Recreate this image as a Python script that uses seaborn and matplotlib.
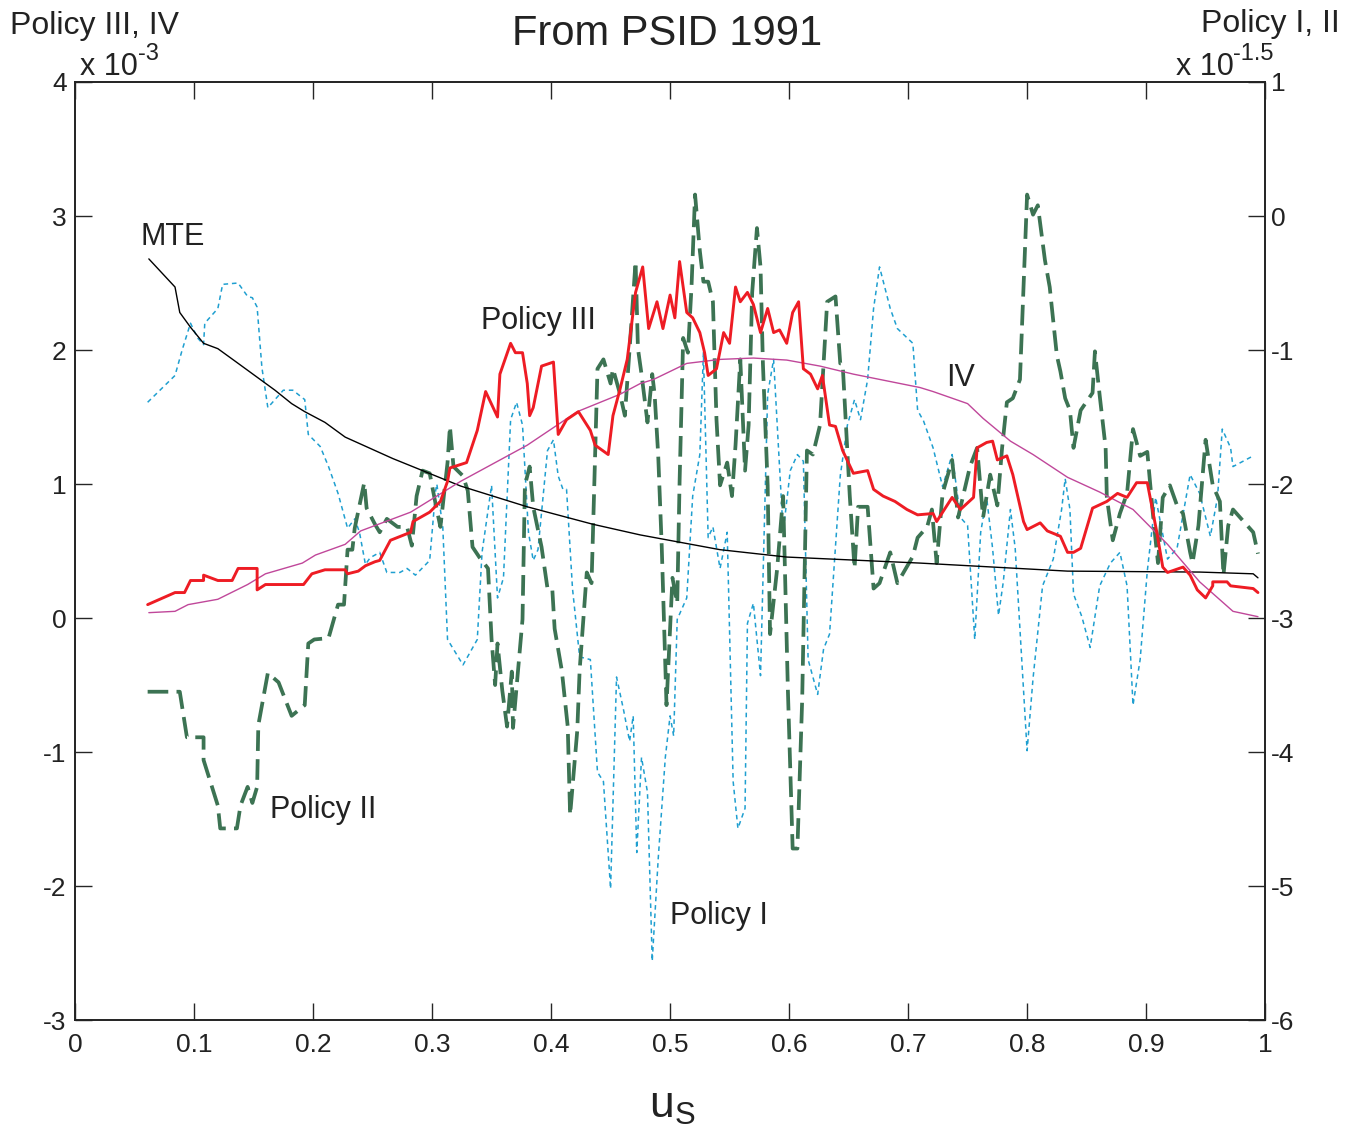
import matplotlib
matplotlib.use("Agg")
import matplotlib.pyplot as plt
import seaborn as sns

# x values (u_S) and curves
mte_x = [0.062, 0.084, 0.088, 0.097, 0.108, 0.120, 0.134, 0.151, 0.168, 0.182, 0.193, 0.210, 0.227,
         0.252, 0.267, 0.324, 0.380, 0.435, 0.475, 0.542, 0.598, 0.710, 0.834, 0.945, 0.990, 0.994]
mte_y = [2.68, 2.47, 2.28, 2.17, 2.05, 2.01, 1.92, 1.81, 1.70, 1.60, 1.54, 1.46, 1.35,
         1.25, 1.19, 0.985, 0.83, 0.70, 0.62, 0.51, 0.455, 0.41, 0.35, 0.343, 0.33, 0.30]

iv_x = [0.062, 0.084, 0.095, 0.120, 0.145, 0.160, 0.191, 0.202, 0.227, 0.240, 0.282, 0.324, 0.380,
        0.422, 0.458, 0.475, 0.486, 0.514, 0.542, 0.570, 0.598, 0.626, 0.654, 0.710, 0.721, 0.750,
        0.763, 0.786, 0.805, 0.834, 0.861, 0.889, 0.918, 0.945, 0.973, 0.994]
iv_y = [0.04, 0.05, 0.10, 0.14, 0.25, 0.33, 0.41, 0.47, 0.55, 0.65, 0.79, 1.02, 1.29,
        1.54, 1.67, 1.75, 1.78, 1.90, 1.93, 1.94, 1.925, 1.88, 1.82, 1.72, 1.69, 1.60,
        1.49, 1.32, 1.22, 1.05, 0.94, 0.81, 0.55, 0.27, 0.05, 0.01]

p3_x = [0.061, 0.084, 0.092, 0.097, 0.108, 0.108, 0.120, 0.132, 0.137, 0.153, 0.153, 0.160, 0.192,
        0.199, 0.210, 0.227, 0.229, 0.238, 0.244, 0.252, 0.256, 0.265, 0.282, 0.284, 0.298, 0.307,
        0.313, 0.315, 0.329, 0.338, 0.345, 0.355, 0.357, 0.366, 0.370, 0.376, 0.380, 0.382, 0.385,
        0.392, 0.402, 0.406, 0.413, 0.423, 0.433, 0.437, 0.448, 0.452, 0.458, 0.464, 0.471, 0.477,
        0.482, 0.489, 0.494, 0.500, 0.504, 0.508, 0.514, 0.519, 0.525, 0.529, 0.532, 0.539, 0.545,
        0.550, 0.555, 0.559, 0.565, 0.570, 0.576, 0.582, 0.587, 0.592, 0.598, 0.603, 0.608, 0.612,
        0.618, 0.624, 0.628, 0.634, 0.639, 0.645, 0.654, 0.666, 0.671, 0.679, 0.689, 0.699, 0.708,
        0.721, 0.724, 0.737, 0.744, 0.755, 0.758, 0.766, 0.771, 0.775, 0.783, 0.788, 0.797, 0.800,
        0.811, 0.817, 0.828, 0.834, 0.839, 0.845, 0.855, 0.867, 0.876, 0.884, 0.892, 0.901, 0.909,
        0.914, 0.918, 0.931, 0.937, 0.943, 0.950, 0.956, 0.956, 0.968, 0.971, 0.990, 0.994]
p3_y = [0.10, 0.19, 0.19, 0.28, 0.28, 0.32, 0.28, 0.28, 0.37, 0.37, 0.21, 0.25, 0.25,
        0.33, 0.36, 0.36, 0.33, 0.35, 0.39, 0.42, 0.43, 0.58, 0.64, 0.72, 0.79, 0.87,
        1.02, 1.12, 1.16, 1.40, 1.69, 1.50, 1.82, 2.05, 1.98, 1.98, 1.75, 1.51, 1.57,
        1.88, 1.91, 1.37, 1.48, 1.54, 1.40, 1.29, 1.22, 1.51, 1.71, 1.93, 2.43, 2.62,
        2.16, 2.36, 2.16, 2.41, 2.24, 2.66, 2.28, 2.24, 2.13, 1.98, 1.81, 1.86, 2.13,
        2.05, 2.47, 2.36, 2.43, 2.34, 2.13, 2.31, 2.13, 2.15, 2.05, 2.28, 2.36, 1.86,
        1.82, 1.71, 1.81, 1.44, 1.43, 1.25, 1.08, 1.10, 0.96, 0.91, 0.87, 0.81, 0.77,
        0.78, 0.72, 0.90, 0.81, 0.90, 1.27, 1.31, 1.32, 1.18, 1.21, 1.07, 0.72, 0.66,
        0.71, 0.65, 0.61, 0.49, 0.49, 0.52, 0.82, 0.87, 0.93, 0.90, 1.01, 1.01, 0.64,
        0.38, 0.34, 0.38, 0.32, 0.21, 0.15, 0.24, 0.27, 0.27, 0.24, 0.22, 0.19]

p2_x = [0.061, 0.088, 0.094, 0.108, 0.108, 0.120, 0.122, 0.136, 0.139, 0.145, 0.149, 0.153, 0.154,
        0.162, 0.171, 0.182, 0.193, 0.196, 0.201, 0.213, 0.221, 0.226, 0.229, 0.233, 0.235, 0.239,
        0.243, 0.245, 0.252, 0.256, 0.262, 0.271, 0.279, 0.283, 0.287, 0.292, 0.298, 0.303, 0.307,
        0.313, 0.315, 0.318, 0.326, 0.330, 0.334, 0.340, 0.347, 0.350, 0.353, 0.355, 0.359, 0.363,
        0.367, 0.368, 0.376, 0.378, 0.382, 0.385, 0.392, 0.397, 0.401, 0.403, 0.409, 0.414, 0.416,
        0.422, 0.424, 0.430, 0.434, 0.435, 0.439, 0.444, 0.450, 0.452, 0.458, 0.462, 0.466, 0.471,
        0.473, 0.476, 0.481, 0.485, 0.487, 0.490, 0.493, 0.497, 0.502, 0.506, 0.508, 0.511, 0.515,
        0.518, 0.521, 0.525, 0.528, 0.532, 0.536, 0.539, 0.542, 0.548, 0.552, 0.555, 0.559, 0.563,
        0.566, 0.569, 0.573, 0.576, 0.578, 0.582, 0.584, 0.590, 0.595, 0.599, 0.603, 0.607, 0.611,
        0.615, 0.620, 0.626, 0.632, 0.639, 0.643, 0.645, 0.651, 0.655, 0.658, 0.666, 0.671, 0.676,
        0.685, 0.691, 0.704, 0.708, 0.716, 0.720, 0.724, 0.729, 0.737, 0.742, 0.752, 0.758, 0.763,
        0.769, 0.775, 0.779, 0.783, 0.788, 0.794, 0.800, 0.805, 0.809, 0.815, 0.819, 0.825, 0.828,
        0.832, 0.836, 0.839, 0.845, 0.855, 0.857, 0.861, 0.866, 0.867, 0.872, 0.878, 0.884, 0.889,
        0.895, 0.901, 0.906, 0.910, 0.914, 0.920, 0.926, 0.931, 0.937, 0.939, 0.944, 0.950, 0.956,
        0.962, 0.965, 0.969, 0.973, 0.979, 0.990, 0.994]
p2_y = [-3.55, -3.55, -3.89, -3.89, -4.06, -4.40, -4.57, -4.57, -4.40, -4.26, -4.38, -4.26, -3.80,
        -3.41, -3.48, -3.73, -3.65, -3.19, -3.16, -3.15, -2.90, -2.90, -2.49, -2.49, -2.33, -2.16,
        -1.99, -2.18, -2.30, -2.36, -2.26, -2.32, -2.32, -2.46, -2.09, -1.90, -1.92, -2.15, -2.32,
        -1.84, -1.57, -1.87, -1.94, -2.05, -2.47, -2.55, -2.63, -3.16, -3.50, -3.19, -3.54, -3.81,
        -3.40, -3.82, -3.01, -2.01, -1.87, -2.17, -2.47, -2.78, -2.78, -3.08, -3.39, -3.81, -4.47,
        -3.84, -3.39, -2.66, -2.74, -2.43, -1.14, -1.07, -1.25, -1.14, -1.33, -1.49, -0.99, -0.34,
        -0.99, -1.18, -1.54, -1.18, -1.33, -1.78, -2.47, -3.65, -2.70, -2.89, -1.98, -0.91, -1.02,
        -0.53, 0.16, -0.26, -0.49, -0.49, -0.64, -1.52, -2.01, -1.84, -2.09, -1.71, -1.07, -1.90,
        -1.56, -0.57, -0.09, -0.38, -1.10, -2.01, -3.12, -2.63, -2.09, -3.54, -4.72, -4.72, -3.61,
        -1.75, -1.78, -1.56, -0.64, -0.60, -1.10, -1.10, -2.09, -2.63, -2.17, -2.17, -2.78, -2.74,
        -2.51, -2.74, -2.54, -2.40, -2.32, -2.19, -2.59, -2.07, -1.82, -2.25, -1.87, -1.73, -2.25,
        -1.93, -2.16, -1.73, -1.39, -1.36, -1.22, 0.16, 0.01, 0.08, -0.33, -0.53, -1.04, -1.16,
        -1.36, -1.45, -1.73, -1.45, -1.32, -1.01, -1.34, -1.73, -2.10, -2.42, -2.22, -2.07, -1.59,
        -1.79, -1.76, -2.25, -2.59, -2.10, -2.01, -2.16, -2.22, -2.51, -2.59, -2.31, -1.67, -2.01,
        -2.13, -2.68, -2.31, -2.19, -2.25, -2.36, -2.52]

p1_x = [0.061, 0.084, 0.090, 0.097, 0.103, 0.108, 0.109, 0.120, 0.124, 0.137, 0.145, 0.149, 0.153,
        0.157, 0.162, 0.175, 0.183, 0.193, 0.196, 0.206, 0.213, 0.221, 0.229, 0.235, 0.239, 0.244,
        0.248, 0.256, 0.262, 0.273, 0.279, 0.286, 0.298, 0.303, 0.304, 0.309, 0.313, 0.326, 0.338,
        0.342, 0.350, 0.355, 0.360, 0.366, 0.371, 0.376, 0.381, 0.385, 0.389, 0.397, 0.402, 0.406,
        0.410, 0.413, 0.418, 0.424, 0.433, 0.439, 0.444, 0.450, 0.455, 0.461, 0.466, 0.469, 0.472,
        0.476, 0.481, 0.485, 0.490, 0.496, 0.500, 0.503, 0.506, 0.514, 0.519, 0.525, 0.528, 0.532,
        0.536, 0.542, 0.548, 0.553, 0.557, 0.563, 0.565, 0.570, 0.576, 0.582, 0.587, 0.595, 0.601,
        0.607, 0.612, 0.616, 0.624, 0.629, 0.634, 0.643, 0.649, 0.655, 0.660, 0.666, 0.671, 0.676,
        0.685, 0.691, 0.704, 0.708, 0.713, 0.721, 0.729, 0.737, 0.744, 0.750, 0.756, 0.761, 0.766,
        0.771, 0.776, 0.780, 0.786, 0.790, 0.800, 0.805, 0.813, 0.822, 0.829, 0.832, 0.836, 0.839,
        0.846, 0.853, 0.861, 0.870, 0.878, 0.884, 0.889, 0.895, 0.901, 0.908, 0.918, 0.926, 0.937,
        0.945, 0.954, 0.960, 0.964, 0.971, 0.973, 0.990]
p1_y = [-1.39, -1.19, -1.00, -0.80, -0.91, -0.96, -0.80, -0.69, -0.51, -0.50, -0.60, -0.61, -0.68,
        -1.13, -1.43, -1.30, -1.30, -1.37, -1.63, -1.72, -1.87, -2.07, -2.33, -2.26, -2.36, -2.60,
        -2.55, -2.51, -2.66, -2.66, -2.63, -2.68, -2.57, -2.05, -2.00, -2.32, -3.16, -3.35, -3.16,
        -2.51, -2.01, -2.85, -2.70, -1.52, -1.39, -1.56, -2.36, -2.57, -2.49, -1.75, -1.67, -1.94,
        -2.04, -2.04, -2.78, -3.29, -3.31, -4.15, -4.22, -5.02, -3.44, -3.69, -3.92, -3.73, -4.75,
        -4.04, -4.30, -5.56, -4.80, -4.04, -3.73, -3.88, -3.01, -2.85, -2.09, -1.78, -1.02, -2.40,
        -2.32, -2.63, -2.36, -4.22, -4.57, -4.42, -3.04, -2.89, -3.43, -1.33, -1.07, -2.36, -1.90,
        -1.78, -1.83, -3.31, -3.57, -3.23, -3.12, -1.94, -1.56, -1.37, -1.52, -1.22, -0.69, -0.38,
        -0.69, -0.84, -0.95, -1.45, -1.53, -1.73, -2.02, -1.78, -2.25, -2.31, -3.16, -2.36, -2.10,
        -2.48, -2.98, -2.73, -2.19, -2.48, -3.99, -3.45, -2.76, -2.56, -2.19, -1.96, -2.19, -2.82,
        -2.99, -3.22, -2.76, -2.59, -2.51, -2.76, -3.65, -3.31, -2.65, -2.10, -2.56, -2.48, -1.93,
        -2.07, -2.39, -2.10, -1.59, -1.73, -1.87, -1.79]

x_ticks = [0, 0.1, 0.2, 0.3, 0.4, 0.5, 0.6, 0.7, 0.8, 0.9, 1]
x_tick_labels = ['0', '0.1', '0.2', '0.3', '0.4', '0.5', '0.6', '0.7', '0.8', '0.9', '1']
left_ticks = [-3, -2, -1, 0, 1, 2, 3, 4]
right_ticks = [-6, -5, -4, -3, -2, -1, 0, 1]

sns.set_style("ticks")
plt.rcParams['font.family'] = ['Liberation Sans', 'DejaVu Sans']
plt.rcParams['mathtext.fontset'] = 'custom'
plt.rcParams['mathtext.rm'] = 'Liberation Sans'
plt.rcParams['mathtext.it'] = 'Liberation Sans:italic'
plt.rcParams['mathtext.default'] = 'regular'
plt.rcParams['axes.unicode_minus'] = False

ink = '#222222'
fig = plt.figure(figsize=(13.45, 11.31), dpi=100)
ax = fig.add_axes([0.0558, 0.0981, 0.8848, 0.8294])
ax2 = ax.twinx()

# right axis: Policy I, II
sns.lineplot(x=p1_x, y=p1_y, ax=ax2, estimator=None, sort=False, color='#1f9fd0',
             linewidth=1.1, linestyle=(0, (3, 2.5)))
sns.lineplot(x=p2_x, y=p2_y, ax=ax2, estimator=None, sort=False, color='#3c7353',
             linewidth=2.7, linestyle=(0, (5.5, 2.2)))

# left axis: MTE, IV, Policy III
sns.lineplot(x=mte_x, y=mte_y, ax=ax, estimator=None, sort=False, color='black', linewidth=1.0)
sns.lineplot(x=iv_x, y=iv_y, ax=ax, estimator=None, sort=False, color='#c0479a', linewidth=1.0)
sns.lineplot(x=p3_x, y=p3_y, ax=ax, estimator=None, sort=False, color='#ee1c24', linewidth=2.1)

ax.set_zorder(ax2.get_zorder() + 1)
ax.patch.set_visible(False)

ax.set_xlim(0, 1)
ax.set_ylim(-3, 4)
ax2.set_ylim(-6, 1)
ax.set_xticks(x_ticks)
ax.set_xticklabels(x_tick_labels)
ax.set_yticks(left_ticks)
ax2.set_yticks(right_ticks)

ax.tick_params(axis='x', direction='in', length=12, width=1, top=True, labelsize=19, pad=9,
               labelcolor=ink)
ax.tick_params(axis='y', direction='in', length=12, width=1, right=False, labelsize=19, pad=6,
               labelcolor=ink)
ax2.tick_params(axis='y', direction='in', length=12, width=1, labelsize=19, pad=4, labelcolor=ink)
for a in (ax, ax2):
    for s in a.spines.values():
        s.set_visible(True)
        s.set_color(ink)
        s.set_linewidth(1.2)

txt = dict(fontsize=22, color=ink, va='center', ha='left')
ax.text(0.055, 2.84, 'MTE', **txt)
ax.text(0.341, 2.22, 'Policy III', **txt)
ax.text(0.732, 1.79, 'IV', **txt)
ax.text(0.164, -1.43, 'Policy II', **txt)
ax.text(0.500, -2.22, 'Policy I', **txt)

fig.text(0.496, 0.970, 'From PSID 1991', fontsize=30, ha='center', va='center', color=ink)
fig.text(0.0074, 0.977, 'Policy III, IV', fontsize=23, ha='left', va='center', color=ink)
fig.text(0.996, 0.979, 'Policy I, II', fontsize=23, ha='right', va='center', color=ink)

# "x 10" with a raised exponent, written with plain hyphens
base_l = fig.text(0.0595, 0.934, 'x 10', fontsize=22, ha='left', va='baseline', color=ink)
ax.annotate('-3', xy=(1.0, 0.55), xycoords=base_l, fontsize=17, ha='left', va='bottom', color=ink)
base_r = fig.text(0.874, 0.934, 'x 10', fontsize=22, ha='left', va='baseline', color=ink)
ax.annotate('-1.5', xy=(1.0, 0.55), xycoords=base_r, fontsize=17, ha='left', va='bottom', color=ink)

fig.text(0.4996, 0.022, r'u$_S$', fontsize=32, ha='center', va='center', color=ink)

fig.savefig('out.png', dpi=100)
